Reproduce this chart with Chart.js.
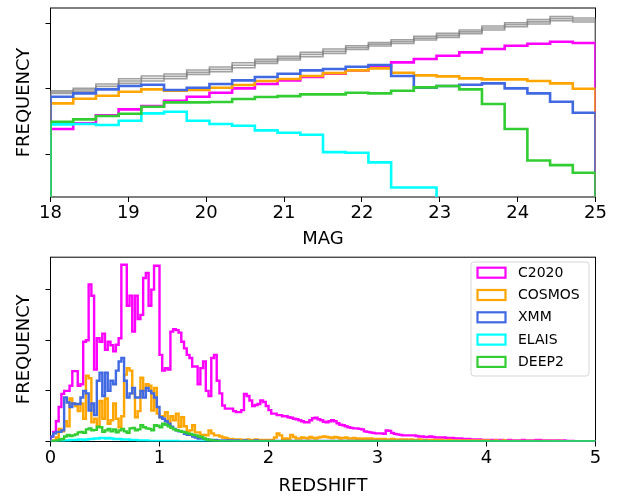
<!DOCTYPE html>
<html><head><meta charset="utf-8">
<script src="https://cdn.jsdelivr.net/npm/chart.js@4.4.0/dist/chart.umd.min.js"></script>
<style>
html,body{margin:0;padding:0;background:#fff;}
#wrap{position:relative;width:628px;height:497px;overflow:hidden;}
#c1{position:absolute;left:0;top:0;width:628px;height:250px;}
#c2{position:absolute;left:0;top:250px;width:628px;height:247px;}
</style></head><body>
<div id="wrap"><canvas id="c1" width="628" height="250"></canvas><canvas id="c2" width="628" height="247"></canvas></div>
<script>
// ---------------- TOP PANEL: magnitude histograms (log10 frequency) ----------------
const MAG_MIN = 18, MAG_MAX = 25, MAG_NBINS = 24;
const MAG_TICKS = [18, 19, 20, 21, 22, 23, 24, 25];
const MAG_FREQ_TICKS = [2, 3, 4];          // log10 frequency, unlabeled ticks
const MAG_FREQ_RANGE = [1.35, 4.234];
const magAllA = [2.972,3.007,3.074,3.155,3.196,3.226,3.287,3.333,3.399,3.450,3.496,3.557,3.608,3.659,3.705,3.750,3.801,3.847,3.898,3.959,4.010,4.056,4.102,4.081];
const magAllB = [2.952,2.982,3.038,3.120,3.158,3.190,3.254,3.298,3.361,3.420,3.468,3.524,3.575,3.631,3.680,3.722,3.773,3.817,3.870,3.929,3.980,4.023,4.071,4.050];
const magAllC = [2.931,2.957,3.002,3.084,3.119,3.155,3.221,3.262,3.323,3.389,3.440,3.491,3.542,3.603,3.654,3.694,3.745,3.786,3.842,3.898,3.949,3.990,4.040,4.020];
const magC2020 = [2.387,2.473,2.595,2.687,2.738,2.819,2.880,2.941,3.007,3.074,3.130,3.180,3.231,3.282,3.343,3.404,3.455,3.506,3.557,3.608,3.659,3.689,3.720,3.700];
const magCOSMOS = [2.778,2.850,2.895,2.957,2.992,2.972,2.982,3.018,3.058,3.119,3.150,3.196,3.241,3.282,3.313,3.247,3.206,3.191,3.160,3.145,3.145,3.119,3.084,3.002];
const magXMM = [2.880,2.931,2.992,3.043,3.063,2.982,3.018,3.074,3.130,3.180,3.231,3.282,3.303,3.338,3.364,3.196,3.018,3.043,3.063,3.084,3.007,2.931,2.804,2.636];
const magELAIS = [2.458,2.463,2.448,2.514,2.626,2.651,2.514,2.463,2.437,2.366,2.331,2.300,2.035,2.025,1.878,1.496,1.496,null,null,null,null,null,null,null];
const magDEEP2 = [2.499,2.534,2.585,2.621,2.728,2.794,2.794,2.799,2.845,2.875,2.890,2.916,2.916,2.941,2.931,2.972,3.023,3.043,2.992,2.768,2.387,1.908,1.837,1.720];

// ---------------- BOTTOM PANEL: redshift histograms ----------------
const Z_MIN = 0, Z_MAX = 5, Z_NBINS = 200;
const Z_TICKS = [0, 1, 2, 3, 4, 5];
const Z_FREQ_TICKS = [0, 100, 200, 300];
const Z_FREQ_MAX = 364;
const zC2020 = [
10,19,40,68,94,100,100,110,139,139,
110,113,197,200,310,288,142,204,197,213,
181,197,190,178,191,204,349,349,268,288,
217,288,242,250,323,333,268,300,347,347,
171,140,145,142,217,222,220,215,197,184,
171,165,148,148,113,145,158,100,90,165,
171,120,95,71,65,65,65,60,58,58,
62,94,90,81,70,72,74,81,78,70,
62,55,55,52,52,50,50,48,47,45,
44,42,40,38,38,42,46,47,44,42,
39,38,40,42,40,36,33,32,30,28,
27,26,26,25,24,20,19,18,17,16,
16,16,15,22,21,17,15,14,13,12,
12,12,12,12,11,10,10,9,9,10,
9,8,8,8,8,7,7,7,6,6,
6,5,5,5,4,4,4,4,3,3,
3,3,3,3,2,3,2,2,3,2,
2,2,2,3,2,2,2,2,3,3,
2,2,2,2,1,2,2,1,2,1,
1,1,0,0,0,0,0,0,0,0];
const zCOSMOS = [
0,2,8,25,20,40,30,85,75,70,
60,75,45,130,125,38,45,30,80,45,
85,35,42,75,45,28,50,132,145,140,
95,48,60,126,100,113,110,61,106,55,
48,50,58,35,50,42,55,29,48,30,
20,22,32,18,18,13,13,12,22,16,
12,12,10,8,7,5,5,4,3,4,
3,3,4,3,3,4,3,3,3,3,
3,3,8,16,12,5,6,5,13,9,
6,6,8,7,6,9,7,6,8,9,
10,9,8,7,9,8,6,7,8,6,
6,7,5,6,5,6,5,6,4,5,
5,4,5,4,4,5,4,3,4,4,
4,3,4,3,3,4,3,3,3,2,
3,3,2,3,2,2,3,2,2,2,
2,2,2,2,2,2,1,2,1,2,
2,1,1,2,1,1,2,1,1,1,
1,1,1,1,1,1,1,1,1,1,
1,1,1,1,1,1,0,1,0,0,
0,0,0,0,0,0,0,0,0,0];
const zXMM = [
10,16,19,19,22,87,77,68,75,74,
74,87,100,95,61,75,52,120,136,90,
136,100,120,113,140,158,165,120,87,95,
106,87,87,100,87,106,100,95,87,68,
48,45,40,35,29,25,22,20,19,15,
13,13,10,8,6,6,5,4,3,3,
3,2,2,2,2,2,2,1,2,1,
1,2,1,1,1,2,1,1,1,1,
1,1,1,1,1,1,1,1,1,1,
1,1,1,1,1,1,1,1,1,1,
1,1,1,1,1,1,1,1,1,1,
1,1,1,1,1,1,1,1,1,1,
1,1,1,1,1,0,1,1,0,1,
1,0,1,0,1,0,0,1,0,0,
0,0,0,0,0,0,0,0,0,0,
0,0,0,0,0,0,0,0,0,0,
0,0,0,0,0,0,0,0,0,0,
0,0,0,0,0,0,0,0,0,0,
0,0,0,0,0,0,0,0,0,0,
0,0,0,0,0,0,0,0,0,0];
const zELAIS = [
0,0,0,0,1,2,2,3,3,3,
4,4,3,4,5,5,6,6,7,7,
6,7,6,5,5,5,4,4,4,3,
3,3,2,2,2,2,1,1,1,1,
1,1,1,1,1,1,1,0,0,0,
0,0,0,0,0,0,0,0,0,0,
0,0,0,0,0,0,0,0,0,0,
0,0,0,0,0,0,0,0,0,0,
0,0,0,0,0,0,0,0,0,0,
0,0,0,0,0,0,0,0,0,0,
0,0,0,0,0,0,0,0,0,0,
0,0,0,0,0,0,0,0,0,0,
0,0,0,0,0,0,0,0,0,0,
0,0,0,0,0,0,0,0,0,0,
0,0,0,0,0,0,0,0,0,0,
0,0,0,0,0,0,0,0,0,0,
0,0,0,0,0,0,0,0,0,0,
0,0,0,0,0,0,0,0,0,0,
0,0,0,0,0,0,0,0,0,0,
0,0,0,0,0,0,0,0,0,0];
const zDEEP2 = [
0,1,2,4,5,10,13,11,12,14,
18,19,17,24,26,22,23,29,28,19,
22,25,20,24,18,22,25,20,17,26,
27,22,24,32,28,26,25,22,32,31,
28,35,33,30,27,24,22,21,19,18,
16,15,13,12,10,9,6,4,3,2,
1,1,0,0,0,0,0,0,0,0,
0,0,0,0,0,0,0,0,0,0,
0,0,0,0,0,0,0,0,0,0,
0,0,0,0,0,0,0,0,0,0,
0,0,0,0,0,0,0,0,0,0,
0,0,0,0,0,0,0,0,0,0,
0,0,0,0,0,0,0,0,0,0,
0,0,0,0,0,0,0,0,0,0,
0,0,0,0,0,0,0,0,0,0,
0,0,0,0,0,0,0,0,0,0,
0,0,0,0,0,0,0,0,0,0,
0,0,0,0,0,0,0,0,0,0,
0,0,0,0,0,0,0,0,0,0,
0,0,0,0,0,0,0,0,0,0];

const SERIES_NAMES = ['C2020', 'COSMOS', 'XMM', 'ELAIS', 'DEEP2'];
const SERIES_COLORS = ['#ff00ff', '#ffa500', '#4169e1', '#00ffff', '#32cd32'];

// ---------------- helpers ----------------
Chart.defaults.font.family = "'DejaVu Sans', sans-serif";
Chart.defaults.color = '#000';

function binEdges(min, max, n) {
  const w = (max - min) / n, e = [];
  for (let i = 0; i <= n; i++) e.push(min + i * w);
  return e;
}
function stepPoints(edges, vals, floor) {
  const n = vals.length, pts = [{x: edges[0], y: floor}];
  vals.forEach((v, i) => pts.push({x: edges[i], y: v == null ? floor : v}));
  const last = vals[n - 1] == null ? floor : vals[n - 1];
  pts.push({x: edges[n], y: last});
  pts.push({x: edges[n], y: floor});
  return pts;
}
function ds(label, data, color, width, order) {
  return {label, data, borderColor: color, backgroundColor: color, borderWidth: width,
    pointRadius: 0, stepped: true, fill: false, tension: 0, order, borderJoinStyle: 'miter'};
}
const framePlugin = {
  id: 'frame',
  beforeDatasetsDraw(chart) {
    const {ctx, chartArea: a} = chart;
    ctx.save(); ctx.strokeStyle = '#000'; ctx.lineWidth = 1;
    ctx.strokeRect(a.left, a.top, a.right - a.left, a.bottom - a.top);
    ctx.restore();
  }
};
const FONT18 = {family: "'DejaVu Sans', sans-serif", size: 18};
function xScale(min, max, ticks, title, height) {
  return {type: 'linear', min, max,
    afterBuildTicks: s => { s.ticks = ticks.map(v => ({value: v})); },
    ticks: {font: FONT18, color: '#000', padding: 1, maxRotation: 0, autoSkip: false},
    grid: {drawOnChartArea: false, drawTicks: true, tickLength: 5, tickColor: '#000', tickWidth: 1},
    border: {display: false},
    title: {display: true, text: title, font: FONT18, color: '#000', padding: {top: 0, bottom: 0}},
    afterFit: s => { s.height = height; }};
}
function yScale(min, max, ticks) {
  return {type: 'linear', min, max,
    afterBuildTicks: s => { s.ticks = ticks.map(v => ({value: v})); },
    ticks: {callback: () => '', padding: 0},
    grid: {drawOnChartArea: false, drawTicks: true, tickLength: 5, tickColor: '#000', tickWidth: 1},
    border: {display: false},
    title: {display: true, text: 'FREQUENCY', font: FONT18, color: '#000', padding: {top: 14, bottom: 0}},
    afterFit: s => { s.width = 50.5; }};
}
const baseOpts = {animation: false, responsive: false, events: [],
  plugins: {legend: {display: false}, tooltip: {enabled: false}}};

// ---------------- top chart ----------------
const magE = binEdges(MAG_MIN, MAG_MAX, MAG_NBINS);
const fl = MAG_FREQ_RANGE[0] - 1;   // empty bins fall below the axis (log of zero)
const grayCol = 'rgba(128,128,128,0.75)';
const magSeries = [magC2020, magCOSMOS, magXMM, magELAIS, magDEEP2];
const topSets = [
  ds('ALL a', stepPoints(magE, magAllA, fl), grayCol, 1.6, 8),
  ds('ALL b', stepPoints(magE, magAllB, fl), grayCol, 1.6, 7),
  ds('ALL c', stepPoints(magE, magAllC, fl), grayCol, 1.6, 6),
];
magSeries.forEach((s, i) => topSets.push(ds(SERIES_NAMES[i], stepPoints(magE, s, fl), SERIES_COLORS[i], 2.6, 5 - i)));
new Chart(document.getElementById('c1'), {
  type: 'line',
  data: {datasets: topSets},
  options: Object.assign({}, baseOpts, {
    layout: {padding: {left: 0, right: 32.5, top: 8, bottom: 0}},
    scales: {x: xScale(MAG_MIN, MAG_MAX, MAG_TICKS, 'MAG', 53), y: yScale(MAG_FREQ_RANGE[0], MAG_FREQ_RANGE[1], MAG_FREQ_TICKS)}
  }),
  plugins: [framePlugin]
});

// ---------------- bottom chart ----------------
const zE = binEdges(Z_MIN, Z_MAX, Z_NBINS);
const zSeries = [zC2020, zCOSMOS, zXMM, zELAIS, zDEEP2];
const botSets = zSeries.map((s, i) => ds(SERIES_NAMES[i], stepPoints(zE, s, 0), SERIES_COLORS[i], 2.4, 5 - i));
const legendPlugin = {
  id: 'boxLegend',
  afterDatasetsDraw(chart) {
    const ctx = chart.ctx;
    const bx = 471, by = 12, bw = 118, bh = 114, r = 3;
    ctx.save();
    ctx.beginPath();
    ctx.moveTo(bx + r, by); ctx.lineTo(bx + bw - r, by); ctx.arcTo(bx + bw, by, bx + bw, by + r, r);
    ctx.lineTo(bx + bw, by + bh - r); ctx.arcTo(bx + bw, by + bh, bx + bw - r, by + bh, r);
    ctx.lineTo(bx + r, by + bh); ctx.arcTo(bx, by + bh, bx, by + bh - r, r);
    ctx.lineTo(bx, by + r); ctx.arcTo(bx, by, bx + r, by, r); ctx.closePath();
    ctx.fillStyle = 'rgba(255,255,255,0.85)'; ctx.fill();
    ctx.strokeStyle = '#d6d6d6'; ctx.lineWidth = 1; ctx.stroke();
    ctx.font = "14px 'DejaVu Sans', sans-serif";
    ctx.textBaseline = 'middle'; ctx.textAlign = 'left';
    chart.data.datasets.forEach((d, i) => {
      const ey = 22.7 + i * 22.3;
      ctx.strokeStyle = d.borderColor; ctx.lineWidth = 2.2;
      ctx.strokeRect(477.5, ey - 5, 28, 10);
      ctx.fillStyle = '#000';
      ctx.fillText(d.label, 518, ey + 0.5);
    });
    ctx.restore();
  }
};
new Chart(document.getElementById('c2'), {
  type: 'line',
  data: {datasets: botSets},
  options: Object.assign({}, baseOpts, {
    layout: {padding: {left: 0, right: 32.5, top: 4, bottom: 0}},
    scales: {x: xScale(Z_MIN, Z_MAX, Z_TICKS, 'REDSHIFT', 55.5), y: yScale(0, Z_FREQ_MAX, Z_FREQ_TICKS)}
  }),
  plugins: [framePlugin, legendPlugin]
});
</script>
</body></html>
